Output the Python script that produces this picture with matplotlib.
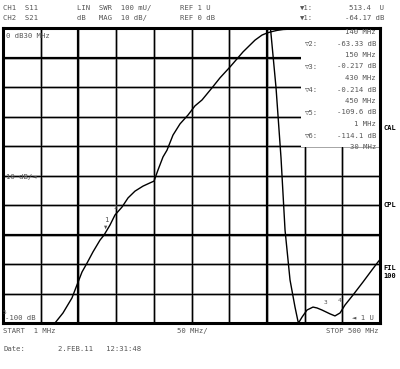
import matplotlib
matplotlib.use("Agg")
import matplotlib.pyplot as plt
from matplotlib.patches import Rectangle
import numpy as np

# ---- data ----
# CH2 S21, dB MAG (10 dB/div, ref 0 dB at top)
s21_freq = [1, 30, 60, 69.8, 80.4, 92.3, 98.9, 105.6, 112.2, 120.1, 129.4, 134.7, 142.6,
            149.2, 158.5, 166.5, 175.7, 186.3, 195.6, 200.9, 206.2, 212.8, 218.1, 226.0,
            235.3, 245.9, 255.1, 264.4, 277.6, 288.2, 301.5, 318.7, 334.6, 343.8, 350.4,
            357.1, 364, 372, 385, 400, 430, 450, 470, 490, 500]
s21_db = [-109.6, -114.1, -104, -100.0, -96.6, -91.5, -87.1, -82.7, -79.7, -75.9, -71.9,
          -70.2, -66.8, -63.4, -60.7, -57.6, -55.3, -53.6, -52.5, -51.9, -48.1, -43.7,
          -41.4, -36.3, -32.5, -29.5, -26.4, -24.4, -20.3, -16.9, -13.2, -8.1, -4.1, -2.4,
          -1.7, -1.2, -0.8, -0.5, -0.35, -0.28, -0.217, -0.214, -0.22, -0.24, -0.25]

# CH1 S11, LIN SWR (100 mU/div, ref 1 U at bottom)
swr_freq = [340, 350, 355, 362.4, 369.0, 374.3, 380.9, 387.5, 391.5, 392.8, 396.8,
            403.4, 411.3, 416.6, 423.2, 433.8, 440.4, 447.1, 453.7, 464.3, 477.5, 489.4,
            497.4, 500]
swr_u = [3.0, 2.3, 2.0, 1.797, 1.559, 1.315, 1.146, 1.054, 1.005, 1.003, 1.020,
         1.044, 1.054, 1.051, 1.044, 1.031, 1.024, 1.034, 1.061, 1.095, 1.139, 1.180,
         1.207, 1.215]

f_start, f_stop = 1, 500
db_min, db_max = -100, 0
swr_min, swr_max = 1.0, 2.0

header1 = ["CH1  S11", "LIN  SWR  100 mU/", "REF 1 U"]
header2 = ["CH2  S21", "dB   MAG  10 dB/", "REF 0 dB"]
mk_header = [("\u25bc1:", "513.4  U"), ("\u25bc1:", "-64.17 dB")]
table_rows = [("", "140 MHz"), ("\u25bd2:", "-63.33 dB"), ("", "150 MHz"),
              ("\u25bd3:", "-0.217 dB"), ("", "430 MHz"), ("\u25bd4:", "-0.214 dB"),
              ("", "450 MHz"), ("\u25bd5:", "-109.6 dB"), ("", "1 MHz"),
              ("\u25bd6:", "-114.1 dB"), ("", "30 MHz")]
side_labels = [("CAL", 128), ("CPL", 205), ("FIL\n100", 272)]

W, H = 400, 369
fig = plt.figure(figsize=(W / 100, H / 100), dpi=100)
fig.patch.set_facecolor("white")

L, R, T, B = 3, 380, 28, 323
ax = fig.add_axes([L / W, 1 - B / H, (R - L) / W, (B - T) / H])
ax.set_xlim(f_start, f_stop)
ax.set_ylim(db_min, db_max)
ax.set_facecolor("white")
for s in ax.spines.values():
    s.set_linewidth(2.2)
    s.set_color("black")
ax.set_xticks([])
ax.set_yticks([])

# graticule
xs = np.linspace(f_start, f_stop, 11)[1:-1]
ys = np.linspace(db_min, db_max, 11)[1:-1]
for i, x in enumerate(xs):
    lw = 1.6 if i in (1, 6) else 0.9
    ax.axvline(x, color="#aaaaaa", lw=1.8, zorder=1)
    ax.axvline(x, color="black", lw=lw, zorder=1.1)
for i, y in enumerate(ys):
    lw = 1.6 if i in (2, 8) else 0.9
    ax.axhline(y, color="#aaaaaa", lw=1.8, zorder=1)
    ax.axhline(y, color="black", lw=lw, zorder=1.1)

# white marker-table box covering graticule
def px2data(px, py):
    fx = f_start + (px - L) / (R - L) * (f_stop - f_start)
    fy = db_max - (py - T) / (B - T) * (db_max - db_min)
    return fx, fy

x0, y0 = px2data(301, 147)
x1, y1 = px2data(379, 29)
ax.add_patch(Rectangle((x0, y0), x1 - x0, y1 - y0, facecolor="white",
                       edgecolor="none", zorder=2))

ax.plot(s21_freq, s21_db, color="black", lw=1.0, zorder=3)

ax2 = ax.twinx()
ax2.set_ylim(swr_min, swr_max)
ax2.set_yticks([])
for s in ax2.spines.values():
    s.set_visible(False)
ax2.plot(swr_freq, swr_u, color="black", lw=1.0, zorder=3)

# text
fam = ["DejaVu Sans Mono", "DejaVu Sans"]
tc = "#555555"
fs = 5.2

def t(px, py, s, ha="left", size=fs, color=tc, weight="normal"):
    fig.text(px / W, 1 - py / H, s, ha=ha, va="center", fontsize=size,
             family=fam, color=color, weight=weight)

t(3, 8, header1[0]); t(77, 8, header1[1]); t(180, 8, header1[2])
t(3, 18, header2[0]); t(77, 18, header2[1]); t(180, 18, header2[2])
t(300, 8, mk_header[0][0]); t(384, 8, mk_header[0][1], ha="right")
t(300, 18, mk_header[1][0]); t(384, 18, mk_header[1][1], ha="right")

for k, (a, b) in enumerate(table_rows):
    yy = 32 + k * 11.5
    if a:
        t(305, yy, a)
    t(376, yy, b, ha="right")

for s, yy in side_labels:
    t(383, yy, s, color="black", weight="bold", size=5)

t(6, 36, "0 dB30 MHz")
t(6, 177, "10 dB/\u25c4")
t(5, 318, "-100 dB")
t(352, 318, "\u25c4 1 U")

# marker labels on traces
t(104, 220, "1")
t(104, 227, "\u25bc", size=4)
t(113, 208, "2", size=4.5)
t(324, 303, "3", size=4.5)
t(338, 300, "4", size=4.5)
t(3, 313, "5", size=4.5)

t(3, 331, "START  1 MHz")
t(177, 331, "50 MHz/")
t(378, 331, "STOP 500 MHz", ha="right")
t(3, 349, "Date:")
t(58, 349, "2.FEB.11   12:31:48")

fig.savefig("out.png", dpi=100, facecolor="white")
